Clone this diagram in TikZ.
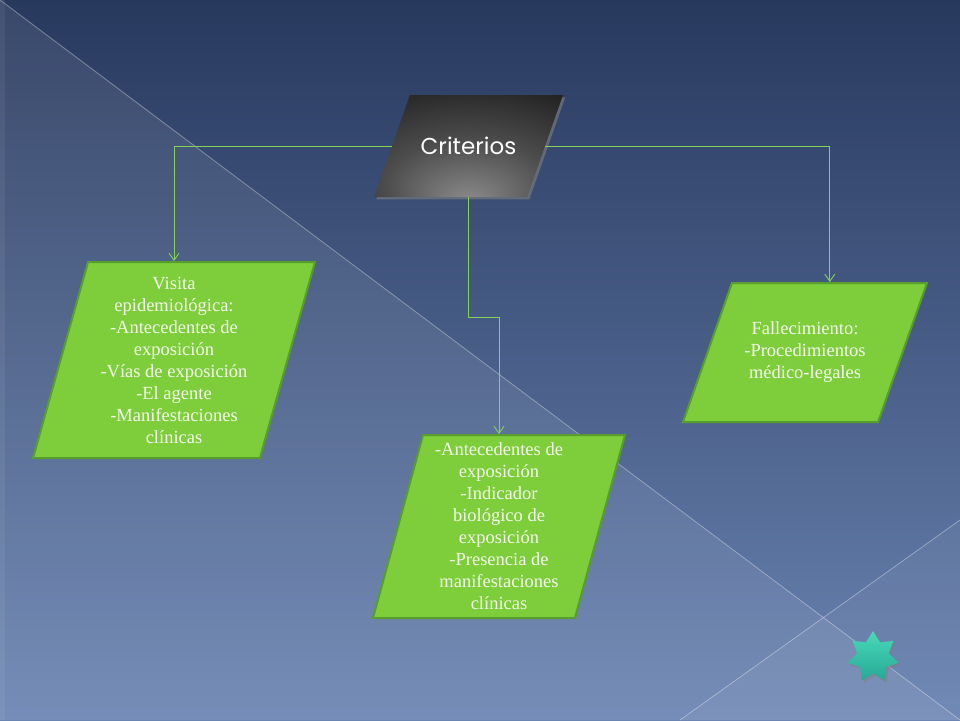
\documentclass[tikz,border=0pt]{standalone}
\usepackage{fontspec}
\setmainfont{Liberation Serif}
\newfontfamily\titlefont{Poppins}
\usetikzlibrary{shapes.geometric, arrows.meta, shadows}
\definecolor{bgtop}{RGB}{40,57,94}
\definecolor{bgbottom}{RGB}{106,132,178}
\definecolor{boxgreen}{RGB}{125,206,58}
\definecolor{boxedge}{RGB}{88,158,44}
\definecolor{boxtext}{RGB}{244,248,236}
\definecolor{linkgreen}{RGB}{132,210,86}
\definecolor{startop}{RGB}{72,218,184}
\definecolor{starbottom}{RGB}{38,168,150}
\pgfdeclareradialshading{critglow}{\pgfpoint{0bp}{-28bp}}{color(0bp)=(black!45); color(22bp)=(black!70); color(45bp)=(black!88); color(70bp)=(black!92)}
\newcommand{\boxlines}[3]{\parbox[c][#1][c]{#2}{\centering #3}}
\tikzstyle{header} = [trapezium, trapezium left angle=70.6, trapezium right angle=109.4, trapezium stretches body, minimum width=189pt, inner sep=0pt, shading=critglow, drop shadow={opacity=0.6}, text=white, font=\titlefont\fontsize{23}{27}\selectfont]
\tikzstyle{process} = [trapezium, trapezium stretches body, inner sep=0pt, draw=boxedge, line width=2pt, fill=boxgreen, text=boxtext, font=\fontsize{18.5}{22}\selectfont]
\tikzstyle{arrow} = [draw=linkgreen, line width=0.9pt, -{Straight Barb[length=7pt,width=10pt]}]

\begin{document}
\begin{tikzpicture}[x=1pt, y=-1pt]
\useasboundingbox (0,0) rectangle (960,720);
\shade[top color=bgtop, bottom color=bgbottom] (0,0) rectangle (960,720);
\fill[white, opacity=0.08] (0,0) -- (960,720) -- (0,720) -- cycle;
\fill[white, opacity=0.05] (960,520) -- (960,720) -- (680,720) -- cycle;
\fill[white, opacity=0.06] (0,0) rectangle (5,720);
\draw[white, opacity=0.35, line width=0.8pt] (0,0) -- (960,720);
\draw[white, opacity=0.35, line width=0.8pt] (960,520) -- (680,720);

\node (crit) [header] at (468.5,146) {\boxlines{102pt}{100pt}{Criterios}};
\node (visit) [process, trapezium left angle=74.3, trapezium right angle=105.7, minimum width=282pt] at (174,360) {\boxlines{196pt}{160pt}{Visita\\epidemiológica:\\-Antecedentes de\\exposición\\-Vías de exposición\\-El agente\\-Manifestaciones\\clínicas}};
\node (bio) [process, trapezium left angle=74.7, trapezium right angle=105.3, minimum width=252pt] at (499,526.5) {\boxlines{183pt}{140pt}{-Antecedentes de\\exposición\\-Indicador\\biológico de\\exposición\\-Presencia de\\manifestaciones\\clínicas}};
\node (death) [process, trapezium left angle=70.6, trapezium right angle=109.4, minimum width=244pt] at (805,352.5) {\boxlines{139pt}{130pt}{Fallecimiento:\\-Procedimientos\\médico-legales}};
\node (badge) [star, star points=7, star point ratio=1.6, minimum size=52pt, inner sep=0pt, top color=startop, bottom color=starbottom, drop shadow={opacity=0.5}] at (873,657) {};
\coordinate (bend) at (468.5,317);

\draw [arrow] (crit.west) -| (visit.north);
\draw [arrow] (crit) -- (bend) -| (bio.north);
\draw [arrow] (crit.east) -| (death.top side);

\end{tikzpicture}
\end{document}
